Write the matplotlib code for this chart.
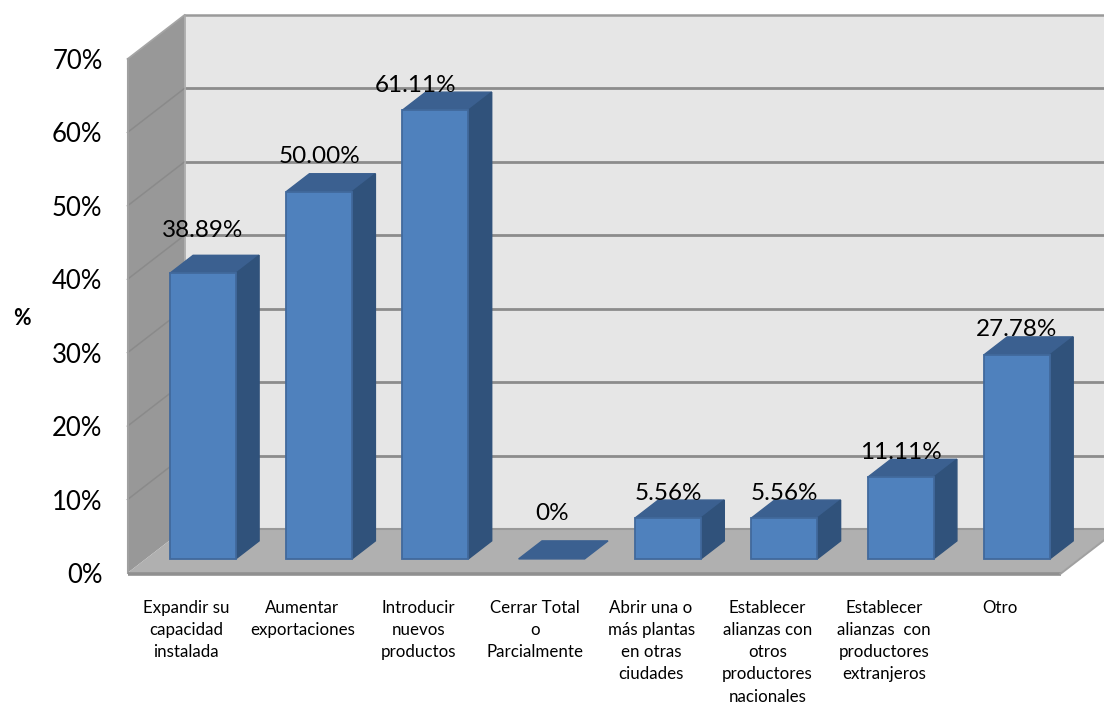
import matplotlib
matplotlib.use('Agg')
import matplotlib.pyplot as plt
from matplotlib.patches import Polygon

categories = [
    'Expandir su\ncapacidad\ninstalada',
    'Aumentar\nexportaciones',
    'Introducir\nnuevos\nproductos',
    'Cerrar Total\no\nParcialmente',
    'Abrir una o\nmás plantas\nen otras\nciudades',
    'Establecer\nalianzas con\notros\nproductores\nnacionales',
    'Establecer\nalianzas  con\nproductores\nextranjeros',
    'Otro',
]
values = [38.89, 50.00, 61.11, 0, 5.56, 5.56, 11.11, 27.78]
value_labels = ['38.89%', '50.00%', '61.11%', '0%', '5.56%', '5.56%', '11.11%', '27.78%']
y_ticks = [0, 10, 20, 30, 40, 50, 60, 70]

# label shift from the bar centre (categories) and above the bar front top (percent)
label_dx = [0, 0, -0.17, 0, 0, 0, 0, 0]
label_dy = [5.9, 4.8, 3.3, 6.2, 3.4, 3.4, 3.4, 3.4]

# category step and percent step in figure pixels
PX_X = 116.3
PX_Y = 7.343
# oblique projection of the full chart depth
DEPTH_X = 57 / PX_X
DEPTH_Y = 44 / PX_Y
BAR_WIDTH = 66 / PX_X
BAR_D0 = 0.32
BAR_D1 = 0.73
TOP = 70

WALL = '#E6E6E6'
SIDE = '#989898'
FLOOR = '#B0B0B0'
GRID = '#8C8C8C'
BAR_FRONT = '#4F81BD'
BAR_TOP = '#3B6090'
BAR_SIDE = '#30527B'
BAR_EDGE = '#41699C'


def proj(x, y, d):
    return (x + d * DEPTH_X, y + d * DEPTH_Y)


def draw_bar(ax, x, h):
    x0 = x - BAR_WIDTH / 2 + BAR_D0 * DEPTH_X
    x1 = x0 + BAR_WIDTH
    y0 = BAR_D0 * DEPTH_Y
    dd = BAR_D1 - BAR_D0
    top = [(x0, y0 + h), (x1, y0 + h), proj(x1, y0 + h, dd), proj(x0, y0 + h, dd)]
    ax.add_patch(Polygon(top, fc=BAR_TOP, ec=BAR_TOP, lw=1, zorder=4))
    if h > 0:
        side = [(x1, y0), proj(x1, y0, dd), proj(x1, y0 + h, dd), (x1, y0 + h)]
        ax.add_patch(Polygon(side, fc=BAR_SIDE, ec=BAR_SIDE, lw=1, zorder=4))
        front = [(x0, y0), (x1, y0), (x1, y0 + h), (x0, y0 + h)]
        ax.add_patch(Polygon(front, fc=BAR_FRONT, ec=BAR_EDGE, lw=1.3, zorder=5))


plt.rcParams['font.family'] = ['Lato', 'DejaVu Sans']

fig = plt.figure(figsize=(11.04, 7.04), dpi=100)
ax = fig.add_axes([0, 0, 1, 1])
ax.set_xlim(-184.5 / PX_X, (1104 - 184.5) / PX_X)
ax.set_ylim(-131 / PX_Y, 573 / PX_Y)
ax.axis('off')

# x position of the front corners of the box
fl = -DEPTH_X
fr = 933 / PX_X + fl

# back wall runs off the right side of the figure
ax.add_patch(Polygon([proj(fl, 0, 1), proj(fr + 1, 0, 1), proj(fr + 1, TOP, 1), proj(fl, TOP, 1)],
                     fc=WALL, ec='none', zorder=1))
ax.add_patch(Polygon([(fl, 0), proj(fl, 0, 1), proj(fl, TOP, 1), (fl, TOP)],
                     fc=SIDE, ec='none', zorder=2))
ax.add_patch(Polygon([(fl, 0), proj(fl, 0, 1), proj(fr, 0, 1), (fr, 0)],
                     fc=FLOOR, ec='none', zorder=2))

# gridlines on the back wall and the side wall
for t in y_ticks[1:-1]:
    bx, by = proj(fl, t, 1)
    ax.plot([bx, bx + 1000 / PX_X], [by, by], color=GRID, lw=2, zorder=1.5, solid_capstyle='butt')
    ax.plot([fl, bx], [t, by], color='#8A8A8A', lw=1.1, zorder=2.5)

# box outline
bx, by = proj(fl, 0, 1)
tx, ty = proj(fl, TOP, 1)
ax.plot([bx, bx + 1000 / PX_X], [by, by], color='#999999', lw=1.5, zorder=2.5)
ax.plot([tx, tx + 1000 / PX_X], [ty, ty], color='#9A9A9A', lw=1.8, zorder=2.5)
ax.plot([fl, tx], [TOP, ty], color='#A5A5A5', lw=1.2, zorder=2.5)
ax.plot([tx, tx], [ty, by], color='#A8A8A8', lw=1.2, zorder=2.5)
ax.plot([fl, fl], [0, TOP], color='#A0A0A0', lw=1.5, zorder=2.5)
ax.plot([fl, fr], [-0.1, -0.1], color='#909090', lw=2.6, zorder=3, solid_capstyle='butt')
ax.plot([fr, proj(fr, 0, 1)[0]], [-0.1, DEPTH_Y - 0.1], color='#A0A0A0', lw=1.5, zorder=3)

for i, v in enumerate(values):
    draw_bar(ax, i, v)

for i, v in enumerate(values):
    cx = i + BAR_D0 * DEPTH_X + label_dx[i]
    ax.text(cx, v + BAR_D0 * DEPTH_Y + label_dy[i], value_labels[i], ha='center', va='center',
            fontsize=17.5, color='black', zorder=6)

for t in y_ticks:
    ax.text(fl - 25 / PX_X, t - 0.35, '%d%%' % t, ha='right', va='center', fontsize=18.5, color='black')

for i, c in enumerate(categories):
    ax.text(i + 0.012, -3.7, c, ha='center', va='top', fontsize=12.2, color='black', linespacing=1.47)

ax.text(22 / PX_X + ax.get_xlim()[0], 34.7, '%', ha='center', va='center', fontsize=15.5,
        fontweight='bold', color='black')

fig.savefig('out.png', dpi=100)
